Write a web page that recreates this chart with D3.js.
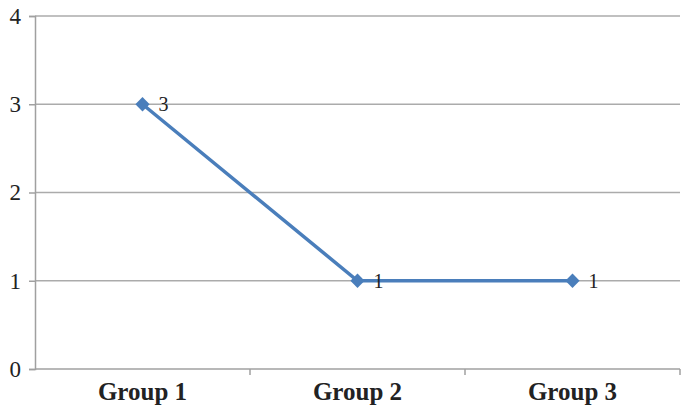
<!DOCTYPE html>
<meta charset="utf-8">
<style>
body { margin: 0; background: #fff; }
.grid line { stroke: #ababab; stroke-width: 1.5px; }
.axis path, .axis line { stroke: #a0a0a0; stroke-width: 1.5px; }
.axis text { font-family: "Liberation Serif", serif; fill: #222; }
.line { fill: none; stroke: #4a7ebb; stroke-width: 3.5px; }
</style>
<svg id="chart" width="684" height="406"></svg>
<script src="https://cdn.jsdelivr.net/npm/d3@7"></script>
<script>
var categories = ["Group 1", "Group 2", "Group 3"];
var values = [3, 1, 1];
var yTicks = [0, 1, 2, 3, 4];

var svg = d3.select("#chart"),
    margin = {top: 16, right: 4, bottom: 37, left: 35},
    width = svg.attr("width") - margin.left - margin.right,
    height = svg.attr("height") - margin.top - margin.bottom,
    g = svg.append("g").attr("transform", "translate(" + margin.left + "," + margin.top + ")");

var x = d3.scaleBand().domain(categories).range([0, width]),
    y = d3.scaleLinear().domain([0, 4]).range([height, 0]);

var data = categories.map(function(c, i) { return {cat: c, value: values[i]}; });

// gridlines
g.append("g")
    .attr("class", "grid")
  .selectAll("line")
  .data(yTicks.slice(1))
  .enter().append("line")
    .attr("x1", 0)
    .attr("x2", width)
    .attr("y1", function(d) { return y(d); })
    .attr("y2", function(d) { return y(d); });

// y axis
var yAxis = g.append("g")
    .attr("class", "axis axis--y")
    .call(d3.axisLeft(y).tickValues(yTicks).tickFormat(d3.format("d")).tickSize(6).tickPadding(8));
yAxis.selectAll("text").style("font-size", "23px");

// x axis with ticks at band edges
var xAxis = g.append("g")
    .attr("class", "axis axis--x")
    .attr("transform", "translate(0," + height + ")");
xAxis.append("line")
    .attr("x1", 0).attr("x2", width);
xAxis.selectAll(".edge")
  .data(categories.slice(1).concat(["end"]))
  .enter().append("line")
    .attr("class", "edge")
    .attr("x1", function(d, i) { return x.step() * (i + 1); })
    .attr("x2", function(d, i) { return x.step() * (i + 1); })
    .attr("y1", 0).attr("y2", 6);
xAxis.selectAll(".cat")
  .data(categories)
  .enter().append("text")
    .attr("class", "cat")
    .attr("x", function(d) { return x(d) + x.bandwidth() / 2; })
    .attr("y", 31)
    .attr("text-anchor", "middle")
    .style("font-size", "25px")
    .style("font-weight", "bold")
    .text(function(d) { return d; });

var line = d3.line()
    .x(function(d) { return x(d.cat) + x.bandwidth() / 2; })
    .y(function(d) { return y(d.value); });

g.append("path")
    .datum(data)
    .attr("class", "line")
    .attr("d", line);

g.selectAll(".marker")
  .data(data)
  .enter().append("path")
    .attr("class", "marker")
    .attr("d", d3.symbol().type(d3.symbolDiamond2).size(130))
    .attr("transform", function(d) { return "translate(" + (x(d.cat) + x.bandwidth() / 2) + "," + y(d.value) + ")"; })
    .attr("fill", "#4a7ebb");

g.selectAll(".label")
  .data(data)
  .enter().append("text")
    .attr("class", "label")
    .attr("x", function(d) { return x(d.cat) + x.bandwidth() / 2 + 16; })
    .attr("y", function(d) { return y(d.value); })
    .attr("dy", "0.35em")
    .style("font-family", "Liberation Serif, serif")
    .style("font-size", "20px")
    .style("fill", "#222")
    .text(function(d) { return d.value; });
</script>
